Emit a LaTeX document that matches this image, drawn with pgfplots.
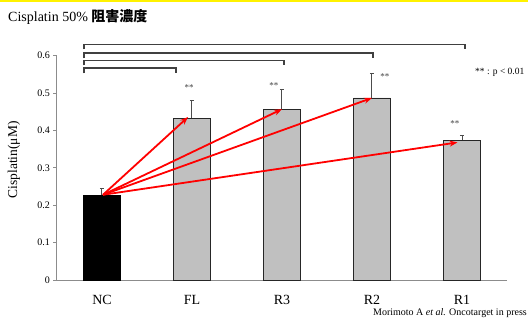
\documentclass[border=0pt]{standalone}
\usepackage{fontspec}
\setmainfont{Liberation Serif}
\newfontfamily\cjk{Noto Sans CJK JP}
\usepackage{pgfplots}
\pgfplotsset{compat=1.18}
\usetikzlibrary{arrows.meta}
\definecolor{axgray}{HTML}{8C8C8C}
\definecolor{bargray}{HTML}{C0C0C0}
\definecolor{brk}{HTML}{404040}
\begin{document}
\begin{tikzpicture}
\useasboundingbox (-57bp,-48bp) rectangle (471bp,280bp);
\fill[yellow] (-57bp,278.4bp) rectangle (471bp,280bp);
\node[anchor=west,inner sep=0pt,font=\fontsize{14bp}{16bp}\selectfont] at (-49bp,263bp) {Cisplatin 50\% {\cjk\bfseries 阻害濃度}};
\begin{axis}[
  at={(0,0)}, anchor=south west,
  scale only axis, width=450bp, height=224.3bp,
  xmin=-0.5, xmax=4.5, ymin=0, ymax=0.6,
  axis x line=bottom, axis y line=left,
  axis line style={axgray, line width=1bp, -},
  xtick={0,1,2,3,4}, xticklabels={NC,FL,R3,R2,R1},
  major x tick style={draw=none},
  xticklabel style={font=\fontsize{14bp}{16bp}\selectfont, yshift=-8bp},
  ytick={0,0.1,0.2,0.3,0.4,0.5,0.6},
  yticklabel style={font=\fontsize{10bp}{12bp}\selectfont, /pgf/number format/fixed, /pgf/number format/precision=1},
  /pgf/number format/assume math mode=true,
  major y tick style={axgray, line width=0.8bp},
  tick align=outside, major tick length=3.5bp,
  ylabel={Cisplatin(μM)},
  ylabel style={at={(axis description cs:-0.0956,0.535)}, anchor=center, font=\fontsize{13.5bp}{16bp}\selectfont},
  clip=false,
]
\addplot[ybar, bar width=0.41, bar shift=0pt, fill=black, draw=black,
  error bars/.cd, y dir=plus, y explicit,
  error bar style={black!70, line width=1bp}, error mark options={rotate=90, black!70, line width=1bp, mark size=2.2bp}]
  coordinates {(0,0.228) +- (0,0.018)};
\addplot[ybar, bar width=0.41, bar shift=0pt, fill=bargray, draw=black!85, line width=0.8bp,
  error bars/.cd, y dir=plus, y explicit,
  error bar style={black!70, line width=1bp}, error mark options={rotate=90, black!70, line width=1bp, mark size=2.2bp}]
  coordinates {(1,0.433) +- (0,0.046) (2,0.457) +- (0,0.052) (3,0.487) +- (0,0.066) (4,0.374) +- (0,0.013)};
% arrows
\draw[red, line width=1.8bp, -{Stealth[length=8bp,width=6bp]}] (axis cs:0.011,0.228) -- (axis cs:0.956,0.436);
\draw[red, line width=1.8bp, -{Stealth[length=8bp,width=6bp]}] (axis cs:0.011,0.228) -- (axis cs:2.0,0.457);
\draw[red, line width=1.8bp, -{Stealth[length=8bp,width=6bp]}] (axis cs:0.011,0.228) -- (axis cs:3.0,0.487);
\draw[red, line width=1.8bp, -{Stealth[length=8bp,width=6bp]}] (axis cs:0.011,0.228) -- (axis cs:3.95,0.368);
% brackets
\draw[brk, line width=1.2bp] (axis cs:-0.2,0.553) -- (axis cs:-0.2,0.567) -- (axis cs:0.822,0.567) -- (axis cs:0.822,0.553);
\draw[brk, line width=1.2bp] (axis cs:-0.2,0.574) -- (axis cs:-0.2,0.588) -- (axis cs:2.022,0.588) -- (axis cs:2.022,0.574);
\draw[brk, line width=1.2bp] (axis cs:-0.2,0.593) -- (axis cs:-0.2,0.607) -- (axis cs:3.011,0.607) -- (axis cs:3.011,0.593);
\draw[brk, line width=1.2bp] (axis cs:-0.2,0.617) -- (axis cs:-0.2,0.631) -- (axis cs:4.033,0.631) -- (axis cs:4.033,0.617);
% significance marks
\node[font=\fontsize{9bp}{10bp}\selectfont, text=black!75] at (axis cs:0.967,0.515) {**};
\node[font=\fontsize{9bp}{10bp}\selectfont, text=black!75] at (axis cs:1.911,0.520) {**};
\node[font=\fontsize{9bp}{10bp}\selectfont, text=black!75] at (axis cs:3.144,0.544) {**};
\node[font=\fontsize{9bp}{10bp}\selectfont, text=black!75] at (axis cs:3.922,0.418) {**};
\end{axis}
\node[anchor=west,inner sep=0pt,font=\fontsize{9.5bp}{11bp}\selectfont] at (418bp,208bp) {** : p < 0.01};
\node[anchor=east,inner sep=0pt,font=\fontsize{10bp}{12bp}\selectfont] at (470bp,-33bp) {Morimoto A \textit{et al.} Oncotarget in press};
\end{tikzpicture}
\end{document}
